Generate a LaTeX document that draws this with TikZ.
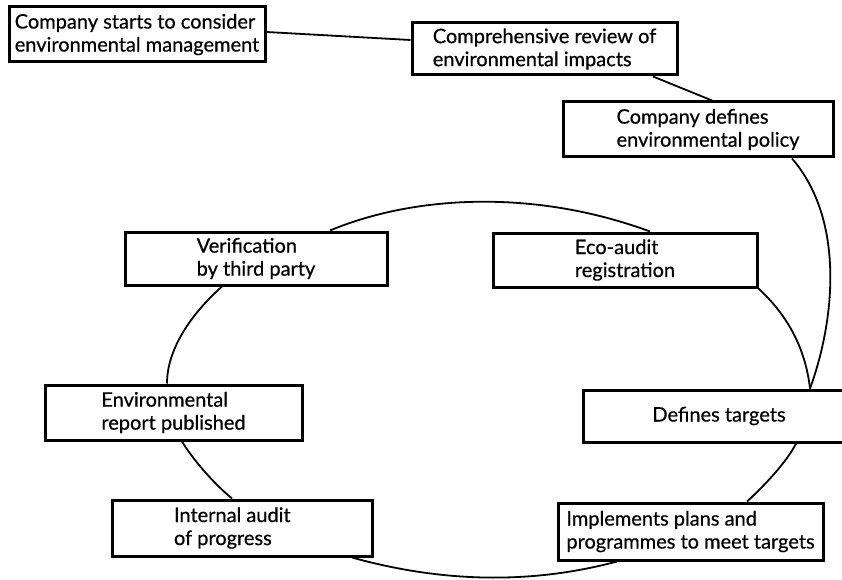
\documentclass[tikz,border=0pt]{standalone}
\usepackage{fontspec}
\setmainfont{Lato}[FakeBold=0.5]
\begin{document}
\begin{tikzpicture}[x=1pt,y=-1pt,
  stagebox/.style={draw, line width=3pt, fill=white, inner sep=0pt, align=left,
    font=\fontsize{20}{23}\selectfont},
  link/.style={line width=1.8pt}]
\clip (0,0) rectangle (842,580);
\fill[white] (0,0) rectangle (842,580);

% lead-in chain
\node[stagebox, minimum width=256pt, minimum height=55pt] (start) at (137,34.5)
  {Company starts to consider\\environmental management};
\node[stagebox, minimum width=265pt, minimum height=52pt] (review) at (544.5,49)
  {Comprehensive review of\\environmental impacts};
\node[stagebox, minimum width=270pt, minimum height=55pt] (policy) at (698,129.5)
  {\hspace*{20pt}Company defines\\\hspace*{20pt}environmental policy};

% the cycle
\node[stagebox, minimum width=262pt, minimum height=53pt] (verif) at (256,258.5)
  {Verification\\by third party};
\node[stagebox, minimum width=264pt, minimum height=54pt] (eco) at (625,260)
  {Eco-audit\\registration};
\node[stagebox, minimum width=257pt, minimum height=55pt] (report) at (173.5,412.5)
  {Environmental\\report published};
\node[stagebox, minimum width=272pt, minimum height=52pt] (targets) at (719,416)
  {Defines targets};
\node[stagebox, minimum width=260pt, minimum height=56pt] (internal) at (242,528)
  {\makebox[136pt][l]{Internal audit}\\of progress};
\node[stagebox, minimum width=265pt, minimum height=57pt] (implement) at (690.5,531.5)
  {Implements plans and\\programmes to meet targets};

% connectors
\draw[link] ([yshift=2.5pt]start.east) -- ([yshift=9pt]review.west);
\draw[link] ([xshift=108.5pt]review.south) -- ([xshift=14pt]policy.north);
\draw[link] ([xshift=94pt]policy.south) .. controls (845,220) and (835,320) .. ([xshift=91pt]targets.north);

\draw[link] ([xshift=74pt]verif.north) .. controls (415,195) and (535,189) .. ([xshift=25pt]eco.north);
\draw[link] (eco.south east) .. controls (785,313) and (805,345) .. ([xshift=91pt]targets.north);
\draw[link] ([xshift=77pt]targets.south) .. controls (787,462) and (762,488) .. ([xshift=56.5pt]implement.north);
\draw[link] ([xshift=-73.5pt]implement.south) .. controls (529,585) and (440,582) .. ([xshift=110pt]internal.south);
\draw[link] ([xshift=-10pt]internal.north) .. controls (212,482) and (192,458) .. ([xshift=8.5pt]report.south);
\draw[link] ([xshift=-6.5pt]report.north) .. controls (167,350) and (190,315) .. ([xshift=-34pt]verif.south);
\end{tikzpicture}
\end{document}
